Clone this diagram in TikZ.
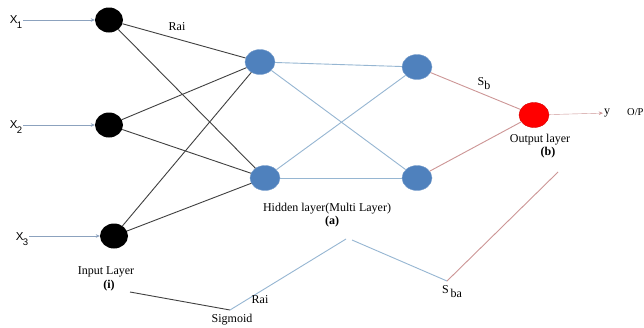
\documentclass[tikz,border=0pt]{standalone}
\usepackage{fontspec}
\setmainfont{Liberation Serif}
\setsansfont{Liberation Sans}
\usetikzlibrary{arrows.meta,positioning,shapes.geometric}
\definecolor{hidblue}{RGB}{79,129,189}
\definecolor{linkblue}{RGB}{150,182,210}
\definecolor{linkpink}{RGB}{205,150,150}
\definecolor{inarrow}{RGB}{140,162,190}
\newcommand{\xin}[1]{{\sffamily\fontsize{11.5}{12}\selectfont X\kern-0.5pt\raisebox{-5pt}{\fontsize{9.5}{10}\selectfont #1}}}

\begin{document}
\begin{tikzpicture}[x=1pt,y=-1pt,
  neu/.style={ellipse,minimum width=28pt,minimum height=25pt,inner sep=0pt},
  inn/.style={neu,fill=black},
  hid/.style={neu,fill=hidblue,draw=hidblue!75!white,minimum width=30pt},
  outn/.style={neu,fill=red,draw=red!85!black,minimum width=30pt},
  lbl/.style={font=\fontsize{12}{12}\selectfont,inner sep=1pt},
  inarr/.style={-{Stealth[length=4pt,width=3.5pt]},draw=inarrow,thin},
  w1/.style={draw=black!75,line width=0.9pt},
  w2/.style={draw=linkblue,line width=0.9pt},
  w3/.style={draw=linkpink,line width=0.9pt}]
\useasboundingbox[fill=white] (0,0) rectangle (644,327);
% neurons
\node[inn] (in1) at (109,20) {};
\node[inn] (in2) at (109,125) {};
\node[inn] (in3) at (114,236) {};
\node[hid] (h1a) at (260,62) {};
\node[hid] (h1b) at (265,178) {};
\node[hid] (h2a) at (417,67) {};
\node[hid] (h2b) at (417,178) {};
\node[outn] (out) at (534,115) {};
% inputs and output
\node[inner sep=1pt] (x1) at (16,22) {\xin{1}};
\node[inner sep=1pt] (x2) at (16,127) {\xin{2}};
\node[inner sep=1pt] (x3) at (22,239) {\xin{3}};
\node[lbl] (y) at (607,113) {y};
\node[lbl,font=\fontsize{10.5}{11}\selectfont,anchor=west] (op) at (626,112) {O/P};
\draw[inarr] (x1.east |- in1) -- (in1);
\draw[inarr] (x2.east |- in2) -- (in2);
\draw[inarr] (x3.east |- in3) -- (in3);
\draw[-{Stealth[length=4pt,width=3.5pt]},draw=linkpink,thin] (out) -- (y);
% weights
\foreach \i in {in1,in2,in3} \foreach \j in {h1a,h1b} \draw[w1] (\i) -- (\j);
\foreach \i in {h1a,h1b} \foreach \j in {h2a,h2b} \draw[w2] (\i) -- (\j);
\draw[w3] (h2a) -- (out); \draw[w3] (h2b) -- (out);
% sigmoid path
\coordinate (p0) at (130,292); \coordinate (p1) at (230,310);
\coordinate (p2) at (346,239); \coordinate (p3) at (352,240);
\coordinate (p4) at (447,281); \coordinate (p5) at (558,172);
\draw[w1] (p0) -- (p1);
\draw[w2] (p1) -- (p2); \draw[w2] (p3) -- (p4);
\draw[w3] (p4) -- (p5);
% labels
\node[lbl] (rai) at (177,27) {Rai};
\node[lbl] (hidl) at (327,209) {Hidden layer(Multi Layer)};
\node[lbl,font=\fontsize{12}{12}\selectfont\bfseries] (hida) at (332,222) {(a)};
\node[lbl] (outl) at (540,140) {Output layer};
\node[lbl,font=\fontsize{12}{12}\selectfont\bfseries] (outb) at (548,153) {(b)};
\node[lbl] (inl) at (106,272) {Input Layer};
\node[lbl,font=\fontsize{12}{12}\selectfont\bfseries] (ini) at (109,286) {(i)};
\node[lbl] (sb) at (484,84) {S\raisebox{-4pt}{b}};
\node[lbl] (rai2) at (260,300) {Rai};
\node[lbl] (sig) at (232,320) {Sigmoid};
\node[lbl] (sba) at (452,292) {S\raisebox{-4pt}{\,ba}};
\end{tikzpicture}
\end{document}
